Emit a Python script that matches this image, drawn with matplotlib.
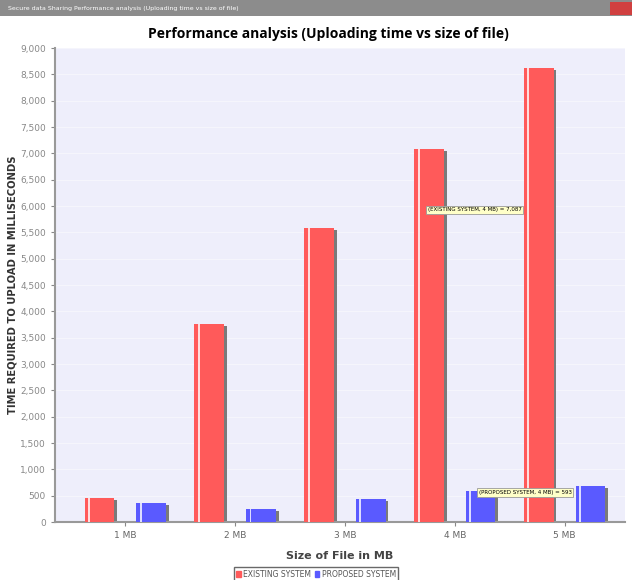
import matplotlib.pyplot as plt
from matplotlib.patches import Rectangle
from matplotlib.ticker import FuncFormatter
import numpy as np

categories = ['1 MB', '2 MB', '3 MB', '4 MB', '5 MB']
existing = [450, 3760, 5590, 7087, 8620]
proposed = [370, 250, 430, 593, 690]
series_names = ['EXISTING SYSTEM', 'PROPOSED SYSTEM']

red = '#ff5a5a'
blue = '#5a5aff'

fig = plt.figure(figsize=(6.32, 5.80), dpi=100)

# window title bar
fig.patches.append(Rectangle((0, 0.972), 1, 0.028, transform=fig.transFigure,
                             facecolor='#8c8c8c', edgecolor='none', zorder=0))
fig.patches.append(Rectangle((0.965, 0.975), 0.035, 0.022, transform=fig.transFigure,
                             facecolor='#d04040', edgecolor='none', zorder=1))
fig.text(0.012, 0.986, 'Secure data Sharing Performance analysis (Uploading time vs size of file)',
         fontsize=4.5, color='white', va='center', ha='left', family='Liberation Sans Narrow')
fig.text(0.52, 0.942, 'Performance analysis (Uploading time vs size of file)',
         fontsize=10, fontweight='bold', ha='center', va='center', family='Open Sans')

ax = fig.add_axes([0.087, 0.1, 0.902, 0.817])
ax.set_facecolor('#eeeefb')

x = np.arange(1, len(categories) + 1)
w = 0.27
off = 0.235

for vals, col, sgn in [(existing, red, -1), (proposed, blue, 1)]:
    xs = x + sgn * off
    # shadow
    ax.bar(xs + 0.025, np.array(vals) - 40, width=w, color='#7a7a7a', zorder=2)
    ax.bar(xs, vals, width=w, color=col, zorder=3)
    # highlight stripe
    ax.bar(xs - w / 2 + 0.04, vals, width=0.018, color='white', alpha=0.8, zorder=4)

ax.set_xlim(1 - 0.64, 5 + 0.55)
ax.set_ylim(0, 9000)
ax.set_yticks(np.arange(0, 9001, 500))
ax.yaxis.set_major_formatter(FuncFormatter(lambda v, p: f'{int(v):,}'))
ax.set_xticks(x)
ax.set_xticklabels(categories)
ax.tick_params(axis='both', labelsize=6.5, colors='#888888', length=3)
ax.tick_params(axis='x', labelcolor='#666666')
ax.grid(axis='y', color='white', linewidth=0.6, alpha=0.5, zorder=1)
for s in ['top', 'right']:
    ax.spines[s].set_visible(False)
for s in ['left', 'bottom']:
    ax.spines[s].set_color('#999999')
    ax.spines[s].set_linewidth(1.5)

ax.set_ylabel('TIME REQUIRED TO UPLOAD IN MILLISECONDS', fontsize=7.2, fontweight='bold',
              color='#333333')
ax.yaxis.set_label_coords(-0.065, 0.5)
ax.set_xlabel('Size of File in MB', fontsize=8, fontweight='bold', color='#444444', labelpad=8)

# tooltips
tip = dict(boxstyle='square,pad=0.3', facecolor='#ffffc8', edgecolor='#999999', linewidth=0.6)
ax.text(4.18, 5930, f'(EXISTING SYSTEM, 4 MB) = {existing[3]:,}', fontsize=4,
        family='Liberation Sans Narrow', va='center', ha='center', bbox=tip, zorder=6)
ax.text(4.64, 560, f'(PROPOSED SYSTEM, 4 MB) = {proposed[3]:,}', fontsize=4,
        family='Liberation Sans Narrow', va='center', ha='center', bbox=tip, zorder=6)

handles = [Rectangle((0, 0), 1, 1, color=red), Rectangle((0, 0), 1, 1, color=blue)]
fig.legend(handles, series_names, loc='center', bbox_to_anchor=(0.5, 0.01), ncol=2,
           fontsize=5.5, frameon=True, fancybox=False, edgecolor='#444444',
           handlelength=0.6, handleheight=0.8, handletextpad=0.3, columnspacing=0.5,
           borderpad=0.3, labelcolor='#555555')

fig.savefig('out.png', dpi=100)
